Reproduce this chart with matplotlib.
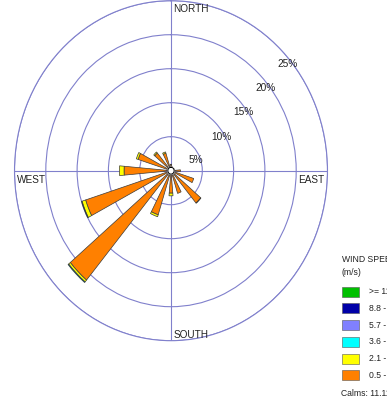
import numpy as np
import matplotlib
matplotlib.use("Agg")
import matplotlib.pyplot as plt
from matplotlib.patches import Rectangle

plt.rcParams['font.family'] = ['Liberation Sans', 'DejaVu Sans']

# ---- data -------------------------------------------------------------
directions = ['N', 'NNE', 'NE', 'ENE', 'E', 'ESE', 'SE', 'SSE',
              'S', 'SSW', 'SW', 'WSW', 'W', 'WNW', 'NW', 'NNW']
bearings = [0, 22.5, 45, 67.5, 90, 112.5, 135, 157.5,
            180, 202.5, 225, 247.5, 270, 292.5, 315, 337.5]

# frequency (%) per speed class, lowest class first
freq_05_21 = [0.9, 0.6, 0.5, 0.6, 1.5, 3.8, 6.2, 3.5,
              3.3, 6.8, 21.0, 14.3, 7.5, 5.5, 3.4, 2.7]
freq_21_36 = [0.05, 0.0, 0.0, 0.0, 0.0, 0.0, 0.05, 0.0,
              0.4, 0.3, 0.35, 0.6, 0.75, 0.3, 0.2, 0.2]
freq_36_57 = [0.0, 0.0, 0.0, 0.0, 0.0, 0.0, 0.0, 0.0,
              0.0, 0.0, 0.12, 0.1, 0.0, 0.0, 0.0, 0.0]
freq_57_88 = [0.0] * 16
freq_88_111 = [0.0] * 16
freq_ge_111 = [0.0] * 16

class_labels = ['>= 11.1', '8.8 - 11.1', '5.7 - 8.8',
                '3.6 - 5.7', '2.1 - 3.6', '0.5 - 2.1']
class_colors = ['#00c000', '#0000a8', '#8080ff',
                '#00ffff', '#ffff00', '#ff8000']
calms = 11.11
ring_values = [5, 10, 15, 20, 25]
ring_labels = ['5%', '10%', '15%', '20%', '25%']
# label anchor positions (bearing in degrees, radius in %)
ring_label_pos = [(69.3, 4.3), (58.5, 9.5), (53.2, 14.4), (51.2, 19.3), (49.8, 24.3)]

# ---- figure -----------------------------------------------------------
W, H = 387, 404
fig = plt.figure(figsize=(W / 100, H / 100), dpi=100)
fig.patch.set_facecolor('white')

cx, cy = 171.0, 170.7      # centre in pixels (from top-left)
rx, ry = 156.5, 170.0      # half extents of the rose frame
ax = fig.add_axes([(cx - rx) / W, 1 - (cy + ry) / H, 2 * rx / W, 2 * ry / H],
                  projection='polar')
ax.set_aspect('auto')
ax.set_theta_zero_location('N')
ax.set_theta_direction(-1)
ax.set_ylim(0, 25)

grid_color = '#8080cc'
ax.set_yticks(ring_values)
ax.set_yticklabels([])
ax.set_xticks(np.deg2rad([0, 90, 180, 270]))
ax.set_xticklabels([])
ax.grid(True, color=grid_color, lw=0.8)
ax.spines['polar'].set_color(grid_color)
ax.spines['polar'].set_linewidth(0.8)
ax.tick_params(length=0)

# stacked petals
theta = np.deg2rad(bearings)
width = np.deg2rad(10.0)
classes = [freq_05_21, freq_21_36, freq_36_57, freq_57_88, freq_88_111, freq_ge_111]
colors_inner_first = class_colors[::-1]
bottom = np.zeros(len(bearings))
for vals, col in zip(classes, colors_inner_first):
    vals = np.asarray(vals, dtype=float)
    mask = vals > 0
    ax.bar(theta[mask], vals[mask], width=width, bottom=bottom[mask],
           color=col, edgecolor='#3a3a3a', linewidth=0.5, zorder=3)
    bottom += vals

# calm circle at the centre
t = np.linspace(0, 2 * np.pi, 100)
r_calm = np.full_like(t, 0.5)
ax.fill(t, r_calm, color='white', zorder=5)
ax.plot(t, r_calm, color='black', lw=0.7, zorder=6)

# ring labels
for (b, r), lab in zip(ring_label_pos, ring_labels):
    ax.text(np.deg2rad(b), r, lab, ha='center', va='center',
            fontsize=7.3, color='#222222', zorder=7)

# compass labels
def ftext(x, y, s, **kw):
    fig.text(x / W, 1 - y / H, s, **kw)

ck = dict(fontsize=7.2, color='#222222', va='baseline')
ftext(173.0, 12.0, 'NORTH', ha='left', **ck)
ftext(16.5, 183.0, 'WEST', ha='left', **ck)
ftext(324.5, 183.0, 'EAST', ha='right', **ck)
ftext(173.5, 337.5, 'SOUTH', ha='left', **ck)

# legend
lk = dict(fontsize=6.2, color='#222222', ha='left', va='center')
ftext(342.0, 259.5, 'WIND SPEED', **lk)
ftext(342.0, 272.5, '(m/s)', **lk)
for i, (lab, col) in enumerate(zip(class_labels, class_colors)):
    yc = 291.7 + 16.7 * i
    fig.patches.append(Rectangle(((342.0) / W, 1 - (yc + 5.0) / H), 16.5 / W, 10.0 / H,
                                 transform=fig.transFigure, facecolor=col,
                                 edgecolor='#555555', linewidth=0.4))
    ftext(369.0, yc, lab, **lk)
ftext(341.0, 394.0, 'Calms: %.2f%%' % calms, **lk)

fig.savefig('out.png', dpi=100, facecolor='white')
